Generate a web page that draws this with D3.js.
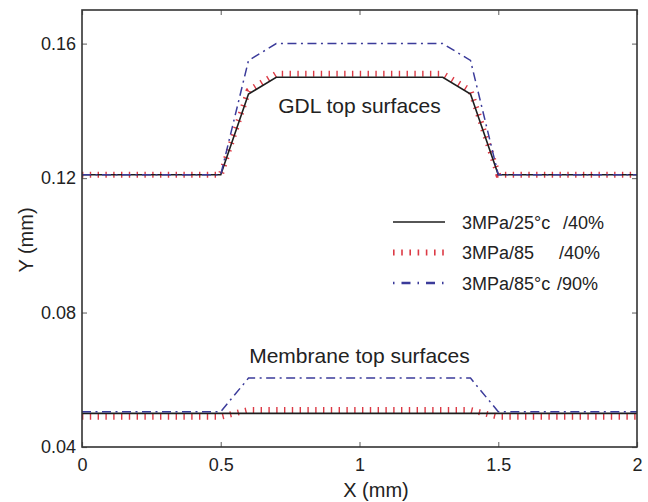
<!DOCTYPE html>
<html>
<head>
<meta charset="utf-8">
<title>GDL and membrane top surfaces</title>
<script src="https://d3js.org/d3.v7.min.js"></script>
<style>
  body { margin: 0; background: #fff; }
  text { font-family: "Liberation Sans", Arial, Helvetica, sans-serif; fill: #222; }
  .tick text { font-size: 18px; }
</style>
</head>
<body>
<div id="chart"></div>
<script>
// x positions (mm) of the profile break points
var gdlX = [0, 0.5, 0.6, 0.7, 1.3, 1.4, 1.5, 2];
var memX = [0, 0.5, 0.6, 1.4, 1.5, 2];

// GDL top surfaces (mm)
var gdl25_40 = [0.121, 0.121, 0.145, 0.150, 0.150, 0.145, 0.121, 0.121];
var gdl85_40 = [0.121, 0.121, 0.146, 0.151, 0.151, 0.146, 0.121, 0.121];
var gdl85_90 = [0.121, 0.121, 0.155, 0.160, 0.160, 0.155, 0.121, 0.121];

// Membrane top surfaces (mm)
var mem25_40 = [0.050, 0.050, 0.050, 0.050, 0.050, 0.050];
var mem85_40 = [0.049, 0.049, 0.051, 0.051, 0.049, 0.049];
var mem85_90 = [0.0505, 0.0505, 0.0605, 0.0605, 0.0505, 0.0505];

var xTicks = [0, 0.5, 1, 1.5, 2];
var yTicks = [0.04, 0.08, 0.12, 0.16];
var xTickLabels = ["0", "0.5", "1", "1.5", "2"];
var yTickLabels = ["0.04", "0.08", "0.12", "0.16"];

var legendNames = [["3MPa/25°c", "/40%"], ["3MPa/85", "/40%"], ["3MPa/85°c", "/90%"]];

var W = 648, H = 502;
var margin = {top: 10, right: 11, bottom: 55, left: 82};
var width = W - margin.left - margin.right;
var height = H - margin.top - margin.bottom;

var styles = [
  {stroke: "#1e1e1e", width: 1.6, dash: null},
  {stroke: "#dc3a45", width: 6, dash: "1.4,6.4"},
  {stroke: "#3b3b9a", width: 1.5, dash: "9,4.5,2,4.5"}
];

var svg = d3.select("#chart").append("svg")
  .attr("width", W).attr("height", H);

var g = svg.append("g")
  .attr("transform", "translate(" + margin.left + "," + margin.top + ")");

var x = d3.scaleLinear().domain([0, 2]).range([0, width]);
var y = d3.scaleLinear().domain([0.04, 0.17]).range([height, 0]);

svg.append("defs").append("clipPath").attr("id", "clip")
  .append("rect").attr("width", width).attr("height", height);

// axes, ticks pointing inward
var xAxis = g.append("g")
  .attr("transform", "translate(0," + height + ")")
  .call(d3.axisBottom(x).tickValues(xTicks).tickSize(-5).tickPadding(11)
    .tickFormat(function(d, i) { return xTickLabels[i]; }));
var xTop = g.append("g")
  .call(d3.axisTop(x).tickValues(xTicks).tickSize(-5).tickFormat(""));
var yAxis = g.append("g")
  .call(d3.axisLeft(y).tickValues(yTicks).tickSize(-5).tickPadding(6)
    .tickFormat(function(d, i) { return yTickLabels[i]; }));
var yRight = g.append("g")
  .attr("transform", "translate(" + width + ",0)")
  .call(d3.axisRight(y).tickValues(yTicks).tickSize(-5).tickFormat(""));

[xAxis, xTop, yAxis, yRight].forEach(function(a) {
  a.select(".domain").remove();
  a.selectAll("line").attr("stroke", "#777").attr("stroke-width", 1.2);
  a.selectAll("text").attr("fill", "#222");
});

var line = d3.line()
  .x(function(d) { return x(d[0]); })
  .y(function(d) { return y(d[1]); });

var plot = g.append("g").attr("clip-path", "url(#clip)");

function drawSeries(xs, ys, st) {
  plot.append("path")
    .datum(xs.map(function(v, i) { return [v, ys[i]]; }))
    .attr("d", line)
    .attr("fill", "none")
    .attr("stroke", st.stroke)
    .attr("stroke-width", st.width)
    .attr("stroke-dasharray", st.dash);
}

drawSeries(gdlX, gdl85_40, styles[1]);
drawSeries(gdlX, gdl25_40, styles[0]);
drawSeries(gdlX, gdl85_90, styles[2]);
drawSeries(memX, mem85_40, styles[1]);
drawSeries(memX, mem25_40, styles[0]);
drawSeries(memX, mem85_90, styles[2]);

// frame
g.append("rect")
  .attr("width", width).attr("height", height)
  .attr("fill", "none").attr("stroke", "#333").attr("stroke-width", 1.6);

// annotations
g.append("text")
  .attr("x", width / 2).attr("y", 103)
  .attr("text-anchor", "middle")
  .style("font-size", "21px")
  .text("GDL top surfaces");
g.append("text")
  .attr("x", width / 2).attr("y", 353)
  .attr("text-anchor", "middle")
  .style("font-size", "21px")
  .text("Membrane top surfaces");

// legend
var legend = g.append("g").attr("transform", "translate(311,212)");
legendNames.forEach(function(n, i) {
  var ly = i * 30.5;
  var st = styles[i];
  legend.append("line")
    .attr("x1", 0).attr("x2", 52).attr("y1", ly).attr("y2", ly)
    .attr("stroke", st.stroke)
    .attr("stroke-width", i == 2 ? 2.6 : (i == 1 ? 6 : 1.6))
    .attr("stroke-dasharray", i == 1 ? "1.6,6.6" : (i == 2 ? "1.5,7,9,7" : null));
  var t = legend.append("text").attr("y", ly + 6.5).style("font-size", "18px");
  t.append("tspan").attr("x", 69).text(n[0]);
  t.append("tspan").attr("x", [170, 166, 164][i]).text(n[1]);
});

// axis titles
svg.append("text")
  .attr("x", 376).attr("y", 497)
  .attr("text-anchor", "middle")
  .style("font-size", "20px")
  .text("X (mm)");
svg.append("text")
  .attr("transform", "translate(33,240) rotate(-90)")
  .attr("text-anchor", "middle")
  .style("font-size", "20px")
  .text("Y (mm)");
</script>
</body>
</html>
